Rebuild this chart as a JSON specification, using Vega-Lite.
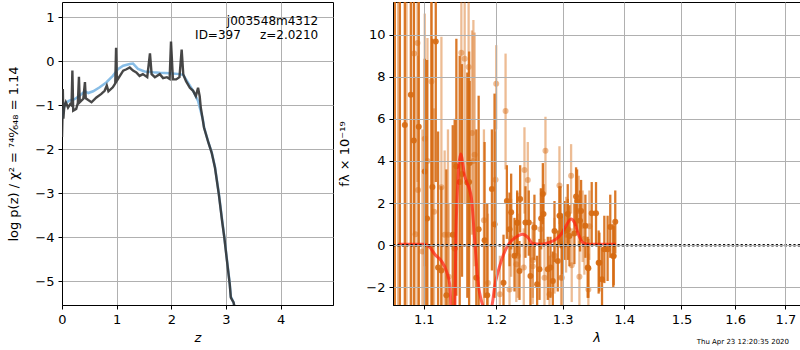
{
  "$schema": "https://vega.github.io/schema/vega-lite/v6.json",
  "padding": {"left": 7, "top": 1, "right": 0, "bottom": 0},
  "spacing": 4,
  "config": {
    "font": "DejaVu Sans",
    "view": {"stroke": "black", "strokeWidth": 1},
    "axis": {
      "labelFont": "DejaVu Sans", "labelFontSize": 13, "labelColor": "black",
      "titleFont": "DejaVu Sans", "titleFontSize": 13, "titleFontWeight": "normal", "titleColor": "black",
      "domainColor": "black", "tickColor": "black", "tickSize": 4, "labelPadding": 4,
      "gridColor": "#b0b0b0", "gridWidth": 1, "gridOpacity": 1,
      "labelFlush": false, "labelOverlap": false
    },
    "axisY": {"titlePadding": 14},
    "axisX": {"titlePadding": 5}
  },
  "datasets": {
    "pzDark": [
      {"z": 0.0, "logp": -1.72}, {"z": 0.008, "logp": -1.3}, {"z": 0.015, "logp": -0.63}, {"z": 0.025, "logp": -1.3},
      {"z": 0.04, "logp": -1.05}, {"z": 0.07, "logp": -0.93}, {"z": 0.11, "logp": -1.05}, {"z": 0.15, "logp": -0.97},
      {"z": 0.175, "logp": -1.0}, {"z": 0.19, "logp": -0.21}, {"z": 0.205, "logp": -1.12}, {"z": 0.26, "logp": -1.08},
      {"z": 0.29, "logp": -0.95}, {"z": 0.31, "logp": -0.35}, {"z": 0.325, "logp": -0.93}, {"z": 0.39, "logp": -0.85},
      {"z": 0.42, "logp": -0.47}, {"z": 0.435, "logp": -0.84}, {"z": 0.48, "logp": -0.88}, {"z": 0.54, "logp": -0.93},
      {"z": 0.63, "logp": -0.82}, {"z": 0.72, "logp": -0.74}, {"z": 0.78, "logp": -0.67}, {"z": 0.82, "logp": -0.55},
      {"z": 0.85, "logp": -0.68}, {"z": 0.93, "logp": -0.59}, {"z": 0.975, "logp": -0.5}, {"z": 0.99, "logp": 0.31},
      {"z": 1.005, "logp": -0.44}, {"z": 1.06, "logp": -0.33}, {"z": 1.12, "logp": -0.21}, {"z": 1.18, "logp": -0.18},
      {"z": 1.24, "logp": -0.14}, {"z": 1.3, "logp": -0.21}, {"z": 1.36, "logp": -0.25}, {"z": 1.42, "logp": -0.33},
      {"z": 1.48, "logp": -0.29}, {"z": 1.56, "logp": -0.36}, {"z": 1.61, "logp": 0.18}, {"z": 1.64, "logp": -0.29},
      {"z": 1.7, "logp": -0.36}, {"z": 1.79, "logp": -0.29}, {"z": 1.85, "logp": -0.38}, {"z": 1.92, "logp": -0.36},
      {"z": 1.97, "logp": -0.4}, {"z": 1.995, "logp": 0.45}, {"z": 2.03, "logp": -0.41}, {"z": 2.09, "logp": -0.41},
      {"z": 2.15, "logp": -0.36}, {"z": 2.19, "logp": 0.27}, {"z": 2.22, "logp": -0.3}, {"z": 2.27, "logp": -0.45},
      {"z": 2.34, "logp": -0.6}, {"z": 2.4, "logp": -0.67}, {"z": 2.45, "logp": -0.79}, {"z": 2.49, "logp": -0.6},
      {"z": 2.52, "logp": -0.79}, {"z": 2.54, "logp": -1.05}, {"z": 2.58, "logp": -1.36}, {"z": 2.6, "logp": -1.51},
      {"z": 2.68, "logp": -1.85}, {"z": 2.74, "logp": -2.08}, {"z": 2.8, "logp": -2.42}, {"z": 2.87, "logp": -3.02},
      {"z": 2.93, "logp": -3.63}, {"z": 2.97, "logp": -4.0}, {"z": 3.02, "logp": -4.54}, {"z": 3.07, "logp": -5.07},
      {"z": 3.09, "logp": -5.37}, {"z": 3.14, "logp": -5.48}, {"z": 3.16, "logp": -5.6}
    ],
    "pzBlue": [
      {"z": 0.0, "logp": -1.3}, {"z": 0.02, "logp": -1.16}, {"z": 0.05, "logp": -0.98}, {"z": 0.1, "logp": -0.92},
      {"z": 0.14, "logp": -0.89}, {"z": 0.23, "logp": -0.86}, {"z": 0.32, "logp": -0.78}, {"z": 0.42, "logp": -0.68},
      {"z": 0.48, "logp": -0.72}, {"z": 0.57, "logp": -0.68}, {"z": 0.69, "logp": -0.59}, {"z": 0.81, "logp": -0.48},
      {"z": 0.93, "logp": -0.33}, {"z": 1.03, "logp": -0.17}, {"z": 1.12, "logp": -0.1}, {"z": 1.24, "logp": -0.06},
      {"z": 1.3, "logp": -0.05}, {"z": 1.39, "logp": -0.17}, {"z": 1.51, "logp": -0.23}, {"z": 1.67, "logp": -0.25},
      {"z": 1.79, "logp": -0.26}, {"z": 1.97, "logp": -0.27}, {"z": 2.16, "logp": -0.29}, {"z": 2.22, "logp": -0.31},
      {"z": 2.27, "logp": -0.41}, {"z": 2.4, "logp": -0.67}, {"z": 2.49, "logp": -0.9}, {"z": 2.58, "logp": -1.33},
      {"z": 2.6, "logp": -1.5}, {"z": 2.68, "logp": -1.84}, {"z": 2.74, "logp": -2.07}, {"z": 2.8, "logp": -2.4},
      {"z": 2.87, "logp": -3.0}, {"z": 2.93, "logp": -3.6}, {"z": 2.97, "logp": -3.98}, {"z": 3.02, "logp": -4.52},
      {"z": 3.07, "logp": -5.05}, {"z": 3.09, "logp": -5.35}, {"z": 3.14, "logp": -5.48}, {"z": 3.16, "logp": -5.6}
    ],
    "pzText": [
      {"z": 4.69, "logp": 0.92, "label": "j003548m4312"},
      {"z": 4.69, "logp": 0.59, "label": "ID=397\u00a0\u00a0\u00a0\u00a0\u00a0z=2.0210"}
    ],
    "specDark": [
      {"lam": 1.0624, "f": 12, "lo": -5, "hi": 28}, {"lam": 1.0688, "f": 12, "lo": -5, "hi": 28},
      {"lam": 1.0752, "f": 5.71, "lo": -5, "hi": 17}, {"lam": 1.083, "f": 7.14, "lo": -5, "hi": 19},
      {"lam": 1.0869, "f": 4.97, "lo": -5, "hi": 15}, {"lam": 1.0934, "f": 5.62, "lo": -4, "hi": 15},
      {"lam": 1.1013, "f": 3.5, "lo": -5, "hi": 8.86}, {"lam": 1.1044, "f": 1.27, "lo": -5, "hi": 8.8},
      {"lam": 1.1102, "f": 12, "lo": -5, "hi": 28}, {"lam": 1.1115, "f": 2.76, "lo": -4, "hi": 9.8},
      {"lam": 1.116, "f": 9.67, "lo": 3, "hi": 15}, {"lam": 1.1191, "f": -1.06, "lo": -5, "hi": 5.4},
      {"lam": 1.1235, "f": -1.2, "lo": -5, "hi": 2.8}, {"lam": 1.139, "f": 0.5, "lo": -5, "hi": 5.7},
      {"lam": 1.1303, "f": -2.38, "lo": -6, "hi": 3.6}, {"lam": 1.1417, "f": -0.16, "lo": -4, "hi": 6.0},
      {"lam": 1.144, "f": 3.75, "lo": -2.4, "hi": 9.8}, {"lam": 1.1486, "f": 3.0, "lo": -3, "hi": 9},
      {"lam": 1.1518, "f": 3.38, "lo": -1.5, "hi": 8.6}, {"lam": 1.1592, "f": 2.98, "lo": -2.5, "hi": 8.2},
      {"lam": 1.1617, "f": 3.0, "lo": -3, "hi": 9.2},
      {"lam": 1.1624, "f": 3.9, "lo": 0, "hi": 7.8}, {"lam": 1.1718, "f": -1.54, "lo": -4, "hi": 5.5},
      {"lam": 1.1751, "f": 0.76, "lo": -3.5, "hi": 7.1}, {"lam": 1.1835, "f": 0.24, "lo": -2.5, "hi": 4.9},
      {"lam": 1.1873, "f": -2.38, "lo": -5, "hi": 2.0}, {"lam": 1.194, "f": 2.67, "lo": -1.2, "hi": 5.5},
      {"lam": 1.1978, "f": 1.0, "lo": -2.5, "hi": 7.2}, {"lam": 1.2108, "f": -1.78, "lo": -3.5, "hi": 0.5},
      {"lam": 1.2157, "f": 2.1, "lo": 0.3, "hi": 3.8}, {"lam": 1.2196, "f": 0.76, "lo": -1, "hi": 2.5},
      {"lam": 1.222, "f": 1.56, "lo": -0.2, "hi": 3.4}, {"lam": 1.2269, "f": -0.5, "lo": -2.2, "hi": 1.3},
      {"lam": 1.2309, "f": 1.08, "lo": -0.5, "hi": 2.6}, {"lam": 1.231, "f": 1.05, "lo": -0.4, "hi": 2.5},
      {"lam": 1.2343, "f": -1.22, "lo": -2.6, "hi": 0.2}, {"lam": 1.2353, "f": 2.19, "lo": 0.6, "hi": 3.8},
      {"lam": 1.2432, "f": 1.08, "lo": -0.6, "hi": 2.8}, {"lam": 1.2482, "f": 1.08, "lo": -0.5, "hi": 2.6},
      {"lam": 1.2507, "f": -1.46, "lo": -3.0, "hi": 0.1}, {"lam": 1.2567, "f": 0.84, "lo": -0.7, "hi": 2.4},
      {"lam": 1.2608, "f": -1.86, "lo": -3.2, "hi": -0.5}, {"lam": 1.2644, "f": -1.14, "lo": -2.6, "hi": 0.3},
      {"lam": 1.2669, "f": 1.27, "lo": -0.2, "hi": 2.7}, {"lam": 1.2695, "f": 2.43, "lo": 1.0, "hi": 3.9},
      {"lam": 1.2705, "f": 1.48, "lo": 0.0, "hi": 2.9},
      {"lam": 1.2771, "f": -1.14, "lo": -2.6, "hi": 0.4}, {"lam": 1.2812, "f": -1.06, "lo": -2.5, "hi": 0.4},
      {"lam": 1.2848, "f": -1.7, "lo": -3.1, "hi": -0.3},
      {"lam": 1.2874, "f": 0.68, "lo": -0.8, "hi": 2.1}, {"lam": 1.2925, "f": -0.75, "lo": -2.2, "hi": 0.7},
      {"lam": 1.2951, "f": 1.4, "lo": 0, "hi": 2.8}, {"lam": 1.2967, "f": 1.4, "lo": 0, "hi": 2.8},
      {"lam": 1.2993, "f": -0.03, "lo": -1.4, "hi": 1.4}, {"lam": 1.3029, "f": 0.68, "lo": -0.7, "hi": 2.1},
      {"lam": 1.3081, "f": 1.48, "lo": 0.1, "hi": 2.9}, {"lam": 1.3082, "f": 0.76, "lo": -0.7, "hi": 2.2},
      {"lam": 1.3108, "f": 0.44, "lo": -1, "hi": 1.9},
      {"lam": 1.3186, "f": 0.56, "lo": -0.9, "hi": 2.0}, {"lam": 1.3213, "f": 2.31, "lo": 0.9, "hi": 3.7},
      {"lam": 1.3229, "f": 2.1, "lo": 0.6, "hi": 3.6},
      {"lam": 1.3276, "f": 1.16, "lo": -0.3, "hi": 2.6}, {"lam": 1.3293, "f": 1.63, "lo": 0.2, "hi": 3.1},
      {"lam": 1.3362, "f": 0.92, "lo": -0.6, "hi": 2.4},
      {"lam": 1.3399, "f": -1.06, "lo": -2.5, "hi": 0.4}, {"lam": 1.341, "f": -1.1, "lo": -2.5, "hi": 0.3},
      {"lam": 1.3464, "f": 1.52, "lo": 0, "hi": 3.0},
      {"lam": 1.3534, "f": 1.52, "lo": 0, "hi": 3.0}, {"lam": 1.3577, "f": -0.83, "lo": -2.3, "hi": 0.7},
      {"lam": 1.3589, "f": -0.83, "lo": -2.2, "hi": 0.6},
      {"lam": 1.3632, "f": -1.62, "lo": -3.1, "hi": -0.1}, {"lam": 1.367, "f": -0.19, "lo": -1.8, "hi": 1.4},
      {"lam": 1.3724, "f": -0.19, "lo": -1.7, "hi": 1.4}, {"lam": 1.3768, "f": 0.87, "lo": -0.6, "hi": 2.4},
      {"lam": 1.3818, "f": -0.51, "lo": -2.0, "hi": 1.0}, {"lam": 1.3825, "f": -0.51, "lo": -1.9, "hi": 0.9},
      {"lam": 1.3851, "f": 1.11, "lo": -0.4, "hi": 2.6}
    ],
    "specLight": [
      {"lam": 1.0666, "f": 12, "lo": -4, "hi": 28},
      {"lam": 1.0774, "f": 12, "lo": -4, "hi": 28}, {"lam": 1.0873, "f": 9.1, "lo": 0.5, "hi": 18},
      {"lam": 1.0891, "f": 0.52, "lo": -5, "hi": 8}, {"lam": 1.0917, "f": 9.6, "lo": 3, "hi": 17},
      {"lam": 1.0925, "f": 2.62, "lo": -3.5, "hi": 9}, {"lam": 1.0982, "f": -0.3, "lo": -5, "hi": 5.5},
      {"lam": 1.1013, "f": 5.05, "lo": -1, "hi": 11}, {"lam": 1.1049, "f": 4.0, "lo": -3, "hi": 9.84},
      {"lam": 1.1102, "f": 7.78, "lo": 2, "hi": 13},
      {"lam": 1.1137, "f": 1.59, "lo": -3, "hi": 6.5}, {"lam": 1.1236, "f": 2.75, "lo": -4, "hi": 9.9},
      {"lam": 1.128, "f": 0.5, "lo": -4, "hi": 4.5}, {"lam": 1.1325, "f": 0.5, "lo": -4, "hi": 5.5},
      {"lam": 1.1335, "f": -1.5, "lo": -5, "hi": 2.0}, {"lam": 1.1509, "f": 9.14, "lo": 3, "hi": 15},
      {"lam": 1.1555, "f": 8.86, "lo": 2, "hi": 15}, {"lam": 1.161, "f": 8.46, "lo": 2, "hi": 14},
      {"lam": 1.1657, "f": 5.33, "lo": 0.5, "hi": 10.2}, {"lam": 1.1677, "f": 4.0, "lo": -2, "hi": 10.7},
      {"lam": 1.1694, "f": 4.29, "lo": -1, "hi": 10.1},
      {"lam": 1.1826, "f": 1.19, "lo": -3, "hi": 5.5}, {"lam": 1.1883, "f": -1.8, "lo": -4, "hi": 1.5},
      {"lam": 1.1993, "f": 3.11, "lo": 0.8, "hi": 5.4}, {"lam": 1.2002, "f": 7.67, "lo": 5.5, "hi": 9.5},
      {"lam": 1.2055, "f": -2.33, "lo": -4, "hi": -0.5}, {"lam": 1.2138, "f": 6.37, "lo": 3.6, "hi": 9.1},
      {"lam": 1.2196, "f": -2.1, "lo": -3.8, "hi": -0.4},
      {"lam": 1.222, "f": 0.33, "lo": -1.5, "hi": 2.2}, {"lam": 1.2296, "f": -0.9, "lo": -2.7, "hi": 0.9},
      {"lam": 1.2318, "f": -0.5, "lo": -2.5, "hi": 1.5},
      {"lam": 1.2407, "f": -1.06, "lo": -3, "hi": 0.8}, {"lam": 1.2417, "f": 3.57, "lo": 1.5, "hi": 5.6},
      {"lam": 1.2467, "f": 3.1, "lo": 1.2, "hi": 4.9}, {"lam": 1.2542, "f": -1.0, "lo": -2.8, "hi": 0.8},
      {"lam": 1.2543, "f": -0.71, "lo": -2.5, "hi": 1.1},
      {"lam": 1.2659, "f": 0.76, "lo": -1.2, "hi": 2.7}, {"lam": 1.272, "f": -1.54, "lo": -3.3, "hi": 0.3},
      {"lam": 1.2735, "f": 4.49, "lo": 2.4, "hi": 6.1}, {"lam": 1.2797, "f": -2.33, "lo": -4, "hi": -0.5},
      {"lam": 1.2874, "f": -0.5, "lo": -2.3, "hi": 1.3}, {"lam": 1.2951, "f": 2.83, "lo": 1.0, "hi": 4.7},
      {"lam": 1.2977, "f": -1.54, "lo": -3.3, "hi": 0.3}, {"lam": 1.2989, "f": -1.54, "lo": -3.3, "hi": 0.2},
      {"lam": 1.3055, "f": 0.5, "lo": -1.3, "hi": 2.3},
      {"lam": 1.3134, "f": 3.3, "lo": 1.5, "hi": 4.8}, {"lam": 1.3144, "f": -0.95, "lo": -2.7, "hi": 0.8},
      {"lam": 1.3255, "f": 1.63, "lo": 0, "hi": 3.3}, {"lam": 1.3266, "f": -1.5, "lo": -3.2, "hi": 0.2},
      {"lam": 1.3318, "f": 0.92, "lo": -0.8, "hi": 2.6},
      {"lam": 1.3346, "f": 0.3, "lo": -1.4, "hi": 2.0}, {"lam": 1.341, "f": -2.1, "lo": -3.8, "hi": -0.4},
      {"lam": 1.3426, "f": 0.9, "lo": -0.7, "hi": 2.6}
    ],
    "model": [
      {"lam": 1.0666, "m": 0.05}, {"lam": 1.1013, "m": 0.05}, {"lam": 1.108, "m": -0.1}, {"lam": 1.1146, "m": -0.43},
      {"lam": 1.1236, "m": -0.75}, {"lam": 1.1303, "m": -1.22}, {"lam": 1.1349, "m": -1.86}, {"lam": 1.1403, "m": -5.5},
      {"lam": 1.144, "m": 1.3}, {"lam": 1.1499, "m": 4.33}, {"lam": 1.1555, "m": 3.3}, {"lam": 1.1648, "m": 2.27},
      {"lam": 1.1694, "m": 0.3}, {"lam": 1.1741, "m": -1.7}, {"lam": 1.1812, "m": -2.9}, {"lam": 1.1883, "m": -3.5},
      {"lam": 1.1954, "m": -2.6}, {"lam": 1.1978, "m": -2.0}, {"lam": 1.2026, "m": -1.3}, {"lam": 1.2075, "m": -0.75},
      {"lam": 1.2172, "m": 0.0}, {"lam": 1.2269, "m": 0.33}, {"lam": 1.2393, "m": 0.52}, {"lam": 1.2467, "m": 0.37},
      {"lam": 1.2542, "m": 0.08}, {"lam": 1.2669, "m": 0.05}, {"lam": 1.2797, "m": 0.13}, {"lam": 1.2899, "m": 0.29},
      {"lam": 1.2977, "m": 0.52}, {"lam": 1.304, "m": 0.84}, {"lam": 1.3134, "m": 1.24}, {"lam": 1.3186, "m": 1.08},
      {"lam": 1.325, "m": 0.52}, {"lam": 1.3319, "m": 0.13}, {"lam": 1.3399, "m": 0.05}, {"lam": 1.3862, "m": 0.05}
    ],
    "zeroLine": [{"lam": 1.06, "f": 0}, {"lam": 1.73, "f": 0}],
    "stamp": [{"lam": 1.615, "f": -4.6, "label": "Thu Apr 23 12:20:35 2020"}]
  },
  "hconcat": [
    {
      "width": 271,
      "height": 303,
      "encoding": {
        "x": {"field": "z", "type": "quantitative",
              "scale": {"domain": [0, 4.96], "nice": false, "zero": false},
              "axis": {"values": [0, 1, 2, 3, 4], "format": "d", "title": "z", "titleFontStyle": "italic"}},
        "y": {"field": "logp", "type": "quantitative",
              "scale": {"domain": [-5.54, 1.35], "nice": false, "zero": false},
              "axis": {"values": [-5, -4, -3, -2, -1, 0, 1], "format": "d", "title": "log p(z) / χ² = ⁷⁴⁰⁄₆₄₈ = 1.14"}}
      },
      "layer": [
        {"data": {"name": "pzBlue"}, "mark": {"type": "line", "color": "#88bde6", "strokeWidth": 2.5, "clip": true}},
        {"data": {"name": "pzDark"}, "mark": {"type": "line", "color": "#333333", "opacity": 0.9, "strokeWidth": 2.4, "clip": true}},
        {"data": {"name": "pzText"}, "mark": {"type": "text", "align": "right", "baseline": "middle", "fontSize": 12, "color": "black", "font": "DejaVu Sans"},
         "encoding": {"x": {"field": "z", "type": "quantitative"}, "y": {"field": "logp", "type": "quantitative"}, "text": {"field": "label"}}}
      ]
    },
    {
      "width": 407,
      "height": 303,
      "encoding": {
        "x": {"field": "lam", "type": "quantitative",
              "scale": {"type": "log", "domain": [1.06, 1.73], "nice": false},
              "axis": {"values": [1.1, 1.2, 1.3, 1.4, 1.5, 1.6, 1.7], "format": ".1f", "title": "λ", "titleFontStyle": "italic", "zindex": 1}}
      },
      "layer": [
        {"data": {"name": "specLight"}, "mark": {"type": "rule", "color": "#d66a12", "opacity": 0.45, "strokeWidth": 2.3, "clip": true},
         "encoding": {"y": {"field": "lo", "type": "quantitative", "scale": {"domain": [-2.84, 11.55], "nice": false, "zero": false},
                            "axis": {"values": [-2, 0, 2, 4, 6, 8, 10], "format": "d", "title": "fλ × 10⁻¹⁹", "zindex": 1}},
                      "y2": {"field": "hi"}}},
        {"data": {"name": "specLight"}, "mark": {"type": "circle", "color": "#d66a12", "opacity": 0.45, "size": 36, "clip": true},
         "encoding": {"y": {"field": "f", "type": "quantitative"}}},
        {"data": {"name": "specDark"}, "mark": {"type": "rule", "color": "#d66a12", "opacity": 0.9, "strokeWidth": 2.3, "clip": true},
         "encoding": {"y": {"field": "lo", "type": "quantitative"}, "y2": {"field": "hi"}}},
        {"data": {"name": "specDark"}, "mark": {"type": "circle", "color": "#d66a12", "opacity": 0.9, "size": 36, "clip": true},
         "encoding": {"y": {"field": "f", "type": "quantitative"}}},
        {"data": {"name": "model"}, "mark": {"type": "line", "color": "#ff2010", "opacity": 0.7, "strokeWidth": 3, "interpolate": "monotone", "clip": true},
         "encoding": {"y": {"field": "m", "type": "quantitative"}}},
        {"data": {"name": "zeroLine"}, "mark": {"type": "line", "color": "#111111", "strokeWidth": 2.5, "strokeDash": [2.2, 2.2], "clip": true},
         "encoding": {"y": {"field": "f", "type": "quantitative"}}},
        {"data": {"name": "stamp"}, "mark": {"type": "text", "align": "center", "baseline": "middle", "fontSize": 7, "color": "black", "clip": false},
         "encoding": {"y": {"field": "f", "type": "quantitative"}, "text": {"field": "label"}}}
      ]
    }
  ]
}
